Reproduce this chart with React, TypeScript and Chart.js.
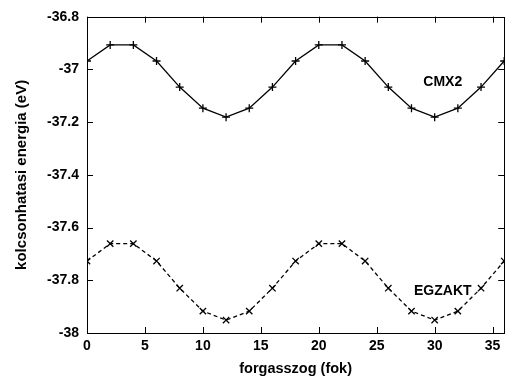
import React, { useEffect, useRef } from "react";
import { Chart, registerables } from "chart.js";

Chart.register(...registerables);

const angles = [0, 2, 4, 6, 8, 10, 12, 14, 16, 18, 20, 22, 24, 26, 28, 30, 32, 34, 36];
const cmx2 = [-36.968, -36.907, -36.907, -36.968, -37.067, -37.147, -37.181, -37.147, -37.067, -36.968, -36.907, -36.907, -36.968, -37.067, -37.147, -37.181, -37.147, -37.067, -36.968];
const egzakt = [-37.727, -37.661, -37.661, -37.727, -37.83, -37.917, -37.951, -37.917, -37.83, -37.727, -37.661, -37.661, -37.727, -37.83, -37.917, -37.951, -37.917, -37.83, -37.727];
const xTicks = [0, 5, 10, 15, 20, 25, 30, 35];
const yTicks = [-38, -37.8, -37.6, -37.4, -37.2, -37, -36.8];
const seriesNames = ["CMX2", "EGZAKT"];
const labelPos = [
  { x: 30.7, y: -37.05 },
  { x: 30.7, y: -37.843 },
];
const xTitle = "forgasszog (fok)";
const yTitle = "kolcsonhatasi energia (eV)";

const FONT = "'Liberation Sans', Arial, sans-serif";

const framePlugin = {
  id: "frame",
  afterDraw(chart: any) {
    const { ctx, chartArea: a, scales } = chart;
    const xs = scales.x;
    const ys = scales.y;
    ctx.save();
    ctx.strokeStyle = "#000";
    ctx.lineWidth = 1;
    ctx.strokeRect(Math.round(a.left) + 0.5, Math.round(a.top) + 0.5, Math.round(a.right - a.left), Math.round(a.bottom - a.top));
    const tl = 6;
    ctx.beginPath();
    for (const t of xTicks) {
      const px = Math.round(xs.getPixelForValue(t)) + 0.5;
      ctx.moveTo(px, a.bottom);
      ctx.lineTo(px, a.bottom - tl);
      ctx.moveTo(px, a.top);
      ctx.lineTo(px, a.top + tl);
    }
    for (const t of yTicks) {
      const py = Math.round(ys.getPixelForValue(t)) + 0.5;
      ctx.moveTo(a.left, py);
      ctx.lineTo(a.left + tl, py);
      ctx.moveTo(a.right, py);
      ctx.lineTo(a.right - tl, py);
    }
    ctx.stroke();

    ctx.fillStyle = "#000";
    ctx.font = `bold 14px ${FONT}`;
    ctx.textAlign = "center";
    ctx.textBaseline = "middle";
    seriesNames.forEach((n, i) => {
      ctx.fillText(n, xs.getPixelForValue(labelPos[i].x), ys.getPixelForValue(labelPos[i].y));
    });

    ctx.font = `bold 14.5px ${FONT}`;
    ctx.fillText(xTitle, (a.left + a.right) / 2, 369);
    ctx.translate(22, (a.top + a.bottom) / 2);
    ctx.rotate(-Math.PI / 2);
    ctx.font = `bold 15px ${FONT}`;
    ctx.fillText(yTitle, 0, 0);
    ctx.restore();
  },
};

export default function App() {
  const ref = useRef<HTMLCanvasElement | null>(null);
  useEffect(() => {
    if (!ref.current) return;
    const chart = new Chart(ref.current, {
      type: "line",
      data: {
        datasets: [
          {
            label: seriesNames[0],
            data: angles.map((a, i) => ({ x: a, y: cmx2[i] })),
            borderColor: "#000",
            backgroundColor: "#000",
            borderWidth: 1.3,
            pointStyle: "cross",
            pointRadius: 4,
            pointBorderWidth: 1.3,
            pointBorderColor: "#000",
            tension: 0,
          },
          {
            label: seriesNames[1],
            data: angles.map((a, i) => ({ x: a, y: egzakt[i] })),
            borderColor: "#000",
            backgroundColor: "#000",
            borderWidth: 1.3,
            borderDash: [4, 3],
            pointStyle: "crossRot",
            pointRadius: 4.5,
            pointBorderWidth: 1.3,
            pointBorderColor: "#000",
            tension: 0,
          },
        ],
      },
      options: {
        animation: false,
        responsive: false,
        layout: { padding: { top: 16.7, right: 1, left: 0, bottom: 0 } },
        plugins: { legend: { display: false }, tooltip: { enabled: false } },
        scales: {
          x: {
            type: "linear",
            min: 0,
            max: 36,
            afterFit: (s: any) => { s.height = 45; },
            afterBuildTicks: (s: any) => { s.ticks = xTicks.map((v) => ({ value: v })); },
            grid: { display: false, drawTicks: false },
            border: { display: false },
            ticks: {
              padding: 5,
              color: "#000",
              font: { family: FONT, size: 14, weight: "bold" },
              maxRotation: 0,
              autoSkip: false,
            },
          },
          y: {
            type: "linear",
            min: -38,
            max: -36.8,
            afterFit: (s: any) => { s.width = 87; },
            afterBuildTicks: (s: any) => { s.ticks = yTicks.map((v) => ({ value: v })); },
            grid: { display: false, drawTicks: false },
            border: { display: false },
            ticks: {
              padding: 8,
              color: "#000",
              font: { family: FONT, size: 14, weight: "bold" },
              autoSkip: false,
              callback: (v: any) => String(Number(Number(v).toFixed(1))),
            },
          },
        },
      },
      plugins: [framePlugin],
    });
    return () => chart.destroy();
  }, []);
  return (
    <div style={{ position: "fixed", left: 0, top: 0, width: 508, height: 378, overflow: "hidden", background: "#fff" }}>
      <canvas ref={ref} width={510} height={378} style={{ display: "block", width: 510, height: 378 }} />
    </div>
  );
}
